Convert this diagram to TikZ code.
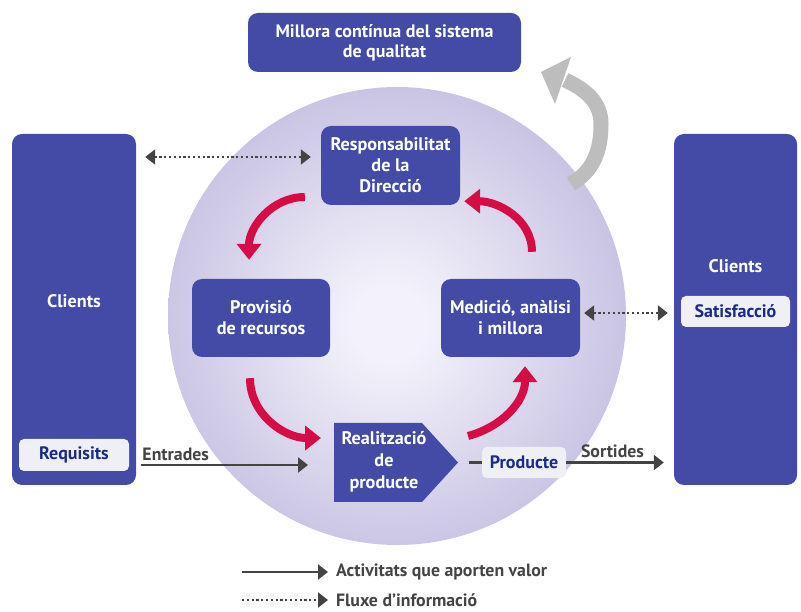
\documentclass[tikz,border=0pt]{standalone}
\usepackage{fontspec}
\setmainfont{PT Sans}
\usetikzlibrary{arrows.meta}

\definecolor{boxblue}{HTML}{434BA6}
\definecolor{subfill}{HTML}{EEF0F5}
\definecolor{subtext}{HTML}{1B2A8C}
\definecolor{cyclered}{HTML}{D60C46}
\definecolor{loopgray}{HTML}{BDBDBD}
\definecolor{flowgray}{HTML}{444444}
\definecolor{circlelight}{HTML}{F3F2FA}
\definecolor{circledark}{HTML}{C8C3E3}

\pgfdeclareradialshading{globe}{\pgfpoint{-1bp}{-1bp}}{%
  color(0bp)=(circlelight); color(4bp)=(circlelight);
  color(26bp)=(circledark); color(50bp)=(circledark)}

\begin{document}
\begin{tikzpicture}[x=1pt,y=1pt,
  box/.style={fill=boxblue, rounded corners=10pt, inner sep=0pt},
  boxtext/.style={text=white, align=center, font=\bfseries\fontsize{18.2}{21}\selectfont},
  subbox/.style={fill=subfill, rounded corners=5pt, text=subtext,
    font=\bfseries\fontsize{18}{20}\selectfont, inner sep=0pt},
  redarr/.style={cyclered, line width=8pt, -{Triangle[length=16pt,width=24pt]}},
  flowarr/.style={flowgray, line width=2.2pt, -{Triangle[length=10pt,width=15pt]}},
  infoarr/.style={flowgray, line width=2.2pt, dash pattern=on 2.2pt off 2.6pt,
    {Triangle[length=10pt,width=15pt]}-{Triangle[length=10pt,width=15pt]}},
  flowlabel/.style={text=flowgray, font=\bfseries\fontsize{17.8}{20}\selectfont}]
  \useasboundingbox (0,0) rectangle (801,611);

  % background disc
  \shade[shading=globe] (397,295) circle[radius=229];

  % top box
  \node[box, boxtext, minimum width=273pt, minimum height=59pt,
    font=\bfseries\fontsize{18}{20}\selectfont] (millora) at (384.5,568.5)
    {Millora contínua del sistema\\de qualitat};

  % clients on both sides
  \node[box, minimum width=124pt, minimum height=351pt] (cliL) at (74,301.5) {};
  \node[boxtext] (cliLtxt) at (74,310) {Clients};
  \node[subbox, minimum width=110pt, minimum height=32pt] (req) at (74,156) {Requisits};
  \node[box, minimum width=123pt, minimum height=351pt] (cliR) at (735.5,301.5) {};
  \node[boxtext] (cliRtxt) at (735.5,345) {Clients};
  \node[subbox, minimum width=109pt, minimum height=31pt] (satis) at (735.5,299.5) {Satisfacció};

  % process boxes
  \node[box, boxtext, minimum width=139pt, minimum height=79pt] (resp) at (390.5,445.5)
    {Responsabilitat\\de la\\Direcció};
  \node[box, boxtext, minimum width=138pt, minimum height=78pt] (prov) at (261,293)
    {Provisió\\de recursos};
  \node[box, boxtext, minimum width=139pt, minimum height=78pt] (medi) at (510.5,293)
    {Medició, anàlisi\\i millora};

  % realitzacio
  \coordinate (realNW) at (334,188);
  \coordinate (realtip) at (458,148.5);
  \fill[boxblue] (realNW) -- (422,188) -- (realtip) -- (422,109) -- (334,109) -- cycle;
  \node[boxtext, font=\bfseries\fontsize{18.2}{22}\selectfont] (real) at (384,149) {Realització\\de\\producte};
  \node[subbox, minimum width=84pt, minimum height=31pt] (prod) at (524,148.5) {Producte};

  % inputs / outputs
  \coordinate (inR) at (308,146);
  \draw[flowarr, shorten <=5pt] (cliL.east |- inR) -- (inR)
    node[flowlabel, above=0pt, pos=.23] (entr) {Entrades};
  \draw[flowgray, line width=2.2pt, shorten <=11pt] (realtip) -- (prod.west);
  \draw[flowarr, shorten >=10pt] (prod.east) -- (cliR.west |- prod.east)
    node[flowlabel, above=0pt, pos=.43] (sort) {Sortides};

  % information flow
  \draw[infoarr, shorten <=9pt, shorten >=10pt] (cliL.east |- 0,454) -- ([yshift=8.5pt]resp.west);
  \draw[infoarr, shorten <=4pt, shorten >=6pt] ([yshift=5pt]medi.east) -- (cliR.west |- 0,298);

  % cycle
  \draw[redarr] ([shift={(-16,-31.5)}]resp.west) to[out=180,in=90] ([shift={(-12,19)}]prov.north);
  \draw[redarr] ([shift={(-11,-21)}]prov.south) to[out=-90,in=180] ([shift={(-13,-15)}]realNW);
  \draw[redarr] ([shift={(10,26.5)}]realtip) to[out=15,in=-90] ([shift={(14.5,-9)}]medi.south);
  \draw[redarr] ([shift={(21.5,27)}]medi.north) to[out=90,in=0] ([shift={(4,4)}]resp.south east);

  % continual improvement loop
  \coordinate (gstart) at (571,427);
  \coordinate (gside) at (601,487);
  \coordinate (gbase) at (565,531);
  \coordinate (gtip) at (541,539);
  \draw[loopgray, line width=15pt] (gstart) to[out=30,in=-90] (gside) to[out=90,in=-25] (gbase);
  \fill[loopgray] (gtip) -- (571,554) -- (555,507) -- cycle;

  % legend
  \coordinate (lg1) at (242,39);
  \coordinate (lg2) at (242,11);
  \node[flowlabel, anchor=west, inner sep=0pt] (lgval) at (336,39) {Activitats que aporten valor};
  \node[flowlabel, anchor=west, inner sep=0pt] (lginf) at (336,11) {Fluxe d’informació};
  \draw[flowarr, shorten >=8pt] (lg1) -- (lgval.west);
  \draw[flowgray, line width=2.2pt, dash pattern=on 2.2pt off 2.6pt,
    -{Triangle[length=10pt,width=15pt]}, shorten >=8pt] (lg2) -- (lginf.west);
\end{tikzpicture}
\end{document}
